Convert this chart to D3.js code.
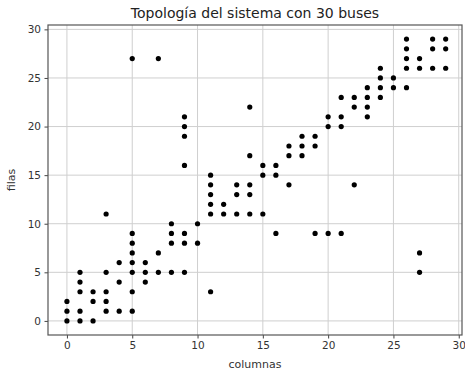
<!DOCTYPE html>
<html>
<head>
<meta charset="utf-8">
<script src="https://cdn.jsdelivr.net/npm/d3@7"></script>
<style>
  body { margin: 0; background: #fff; }
  svg { display: block; font-family: "DejaVu Sans", sans-serif; }
</style>
</head>
<body>
<div id="chart"></div>
<script>
// nonzero entries per column (row indices)
const columns = [0,1,2,3,4,5,6,7,8,9,10,11,12,13,14,15,16,17,18,19,20,21,22,23,24,25,26,27,28,29]
const rowsPerColumn = [
  [0,1,2],
  [0,1,3,4,5],
  [0,2,3],
  [1,2,3,5,11],
  [1,4,6],
  [1,3,5,6,7,8,9,27],
  [4,5,6],
  [5,7,27],
  [5,8,9,10],
  [5,8,9,16,19,20,21],
  [8,10],
  [3,11,12,13,14,15],
  [11,12],
  [11,13,14],
  [11,13,14,17,22],
  [11,15,16],
  [9,15,16],
  [14,17,18],
  [17,18,19],
  [9,18,19],
  [9,20,21],
  [9,20,21,23],
  [14,22,23],
  [21,22,23,24],
  [23,24,25,26],
  [24,25],
  [24,26,27,28,29],
  [5,7,26,27],
  [26,28,29],
  [26,28,29]
]
const xTicks = [0,5,10,15,20,25,30]
const yTicks = [0,5,10,15,20,25,30]

const points = []
columns.forEach((c,i)=>rowsPerColumn[i].forEach(r=>points.push({col:c,row:r})))

const W=465, H=371
const margin = ({top: 25, right: 3, bottom: 36, left: 48})
const width=W-margin.left-margin.right,
  height=H-margin.top-margin.bottom

const svg=d3.select('#chart').append('svg')
  .attr('width',W)
  .attr('height',H)

const g=svg.append('g')
  .attr('transform','translate('+margin.left+','+margin.top+')')

const pad=29*0.05
const xScale=d3.scaleLinear().domain([-pad,30.25]).range([0,width])
const yScale=d3.scaleLinear().domain([-pad,29+pad]).range([height,0])

// grid
g.append('g').selectAll('line').data(xTicks).join('line')
  .attr('x1',d=>xScale(d)).attr('x2',d=>xScale(d))
  .attr('y1',0).attr('y2',height)
  .attr('stroke','#cfcfcf').attr('stroke-width',1)
g.append('g').selectAll('line').data(yTicks).join('line')
  .attr('y1',d=>yScale(d)).attr('y2',d=>yScale(d))
  .attr('x1',0).attr('x2',width)
  .attr('stroke','#cfcfcf').attr('stroke-width',1)

// points
g.append('g').selectAll('circle').data(points).join('circle')
  .attr('cx',d=>xScale(d.col))
  .attr('cy',d=>yScale(d.row))
  .attr('r',2.6)
  .attr('fill','#000')

// axes
const xAxis=d3.axisBottom(xScale).tickValues(xTicks).tickSize(3.5).tickPadding(3.5).tickSizeOuter(0)
const yAxis=d3.axisLeft(yScale).tickValues(yTicks).tickSize(3.5).tickPadding(3.5).tickSizeOuter(0)

g.append('g').attr('class','x-axis')
  .attr('transform',`translate(0,${height})`)
  .call(xAxis)
g.append('g').attr('class','y-axis')
  .call(yAxis)

g.selectAll('.x-axis .domain, .y-axis .domain').remove()
g.selectAll('.tick line').attr('stroke','#444').attr('stroke-width',1)
g.selectAll('.tick text').attr('fill','#333').style('font-size','10.5px').style('font-family','"DejaVu Sans", sans-serif')

// frame
g.append('rect')
  .attr('x',0).attr('y',0).attr('width',width).attr('height',height)
  .attr('fill','none').attr('stroke','#555').attr('stroke-width',1.2)

// labels
svg.append('text')
  .attr('x',margin.left+width/2).attr('y',18)
  .attr('text-anchor','middle')
  .style('font-size','14px').attr('fill','#222')
  .text('Topología del sistema con 30 buses')

svg.append('text')
  .attr('x',margin.left+width/2).attr('y',368)
  .attr('text-anchor','middle')
  .style('font-size','11px').attr('fill','#333')
  .text('columnas')

svg.append('text')
  .attr('transform',`translate(15,${margin.top+height/2}) rotate(-90)`)
  .attr('text-anchor','middle')
  .style('font-size','11px').attr('fill','#333')
  .text('filas')
</script>
</body>
</html>
